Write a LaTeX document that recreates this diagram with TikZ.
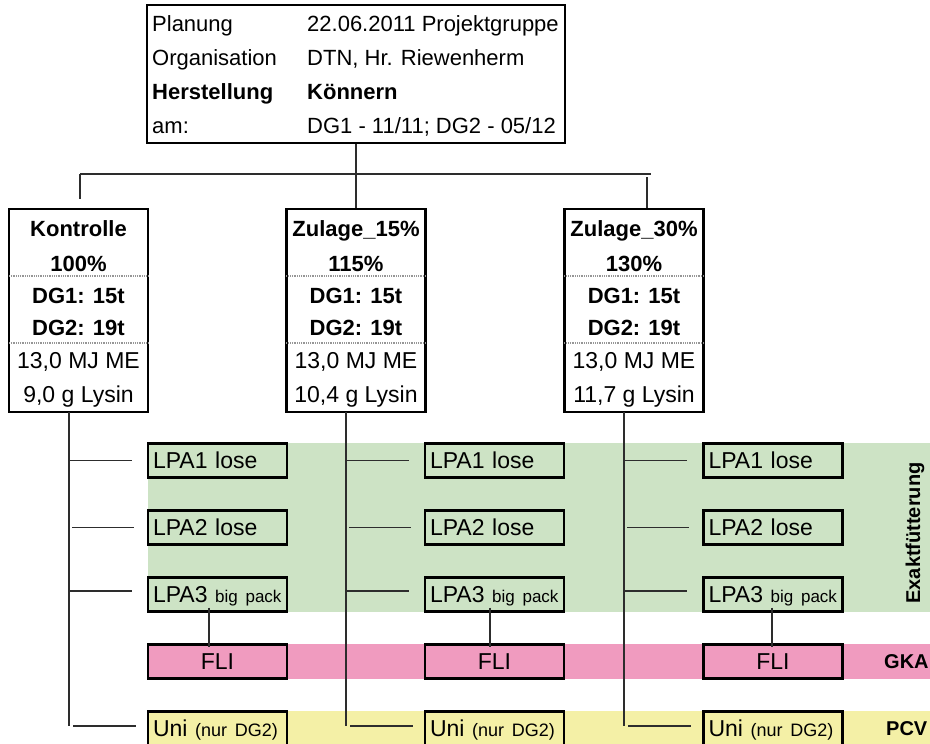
\documentclass[tikz,border=0pt]{standalone}
\usepackage{fontspec}
\setmainfont{Liberation Sans}
\definecolor{bandgreen}{RGB}{205,227,197}
\definecolor{bandpink}{RGB}{240,155,191}
\definecolor{bandyellow}{RGB}{244,240,166}
\definecolor{connc}{RGB}{45,45,45}
\definecolor{divc}{RGB}{150,150,150}
\newcommand{\smalltxt}{\fontsize{17}{20}\selectfont}
\newcommand{\nurtxt}{\fontsize{18}{20}\selectfont}
\begin{document}
\begin{tikzpicture}[x=1pt,y=-1pt,
  conn/.style={draw=connc,line width=1.4pt},
  frame/.style={draw=black,line width=2.2pt,inner sep=0pt},
  divider/.style={draw=divc,line width=1.6pt,dash pattern=on 1pt off 0.8pt},
  txt/.style={inner sep=0pt,font=\fontsize{22}{26}\selectfont},
  txtb/.style={inner sep=0pt,font=\fontsize{22}{26}\selectfont\bfseries},
  txtr/.style={inner sep=0pt,font=\fontsize{23}{26}\selectfont},
  lpa/.style={frame,minimum height=34pt,text width=129pt,inner xsep=5pt,inner ysep=0pt,
    align=left,text height=16.5pt,text depth=0pt,font=\fontsize{23}{26}\selectfont},
  fli/.style={lpa,align=center,fill=bandpink},
  lab/.style={inner sep=0pt,font=\fontsize{20}{24}\selectfont\bfseries}
]
\useasboundingbox (0,0) rectangle (930,744);

% background bands
\fill[bandgreen] (148,443) rectangle (930,612);
\fill[bandpink] (148,644) rectangle (930,679);
\fill[bandyellow] (148,711) rectangle (930,744);

% top box
\node[frame,minimum width=418pt,minimum height=138pt] (top) at (356,74) {};
\node[txt,anchor=base west] (l1) at (152,31) {Planung};
\node[txt,anchor=base west] (v1) at (307,31) {22.06.2011 Projektgruppe};
\node[txt,anchor=base west] (l2) at (152,65) {Organisation};
\node[txt,anchor=base west] (v2) at (307,65) {DTN, Hr. Riewenherm};
\node[txtb,anchor=base west] (l3) at (152,99) {Herstellung};
\node[txtb,anchor=base west] (v3) at (307,99) {Könnern};
\node[txt,anchor=base west] (l4) at (152,133) {am:};
\node[txt,anchor=base west] (v4) at (307,133) {DG1 - 11/11; DG2 - 05/12};

% group boxes
\foreach \c/\cx/\na/\nb/\lys in {1/78.5/Kontrolle/100\%/{9,0 g Lysin},
                                 2/356/Zulage\_15\%/115\%/{10,4 g Lysin},
                                 3/634/Zulage\_30\%/130\%/{11,7 g Lysin}} {
  \node[frame,minimum width=139pt,minimum height=203pt] (g\c) at (\cx,310.5) {};
  \draw[divider] ([xshift=1pt]g\c.west |- 0,276) -- ([xshift=-1pt]g\c.east |- 0,276);
  \draw[divider] ([xshift=1pt]g\c.west |- 0,343) -- ([xshift=-1pt]g\c.east |- 0,343);
  \node[txtb,anchor=base] (ga\c) at (\cx,236) {\na};
  \node[txtb,anchor=base] (gb\c) at (\cx,271) {\nb};
  \node[txtb,anchor=base] (gc\c) at (\cx,303) {DG1: 15t};
  \node[txtb,anchor=base] (gd\c) at (\cx,335) {DG2: 19t};
  \node[txtr,anchor=base] (ge\c) at (\cx,368) {13,0 MJ ME};
  \node[txtr,anchor=base] (gf\c) at (\cx,402) {\lys};
}

% top connectors
\draw[conn] (top.south) -- (g2.north);
\coordinate (busL) at (80,174);
\coordinate (busR) at (651,174);
\coordinate (dropL) at (80,199);
\coordinate (dropR) at (647,177);
\draw[conn] (busL) -- (busR);
\draw[conn] (busL) -- (dropL);
\draw[conn] (dropR) -- (dropR |- g3.north);

% LPA columns
\foreach \c/\bx/\vx/\sh in {1/217.5/69/-8.5, 2/494.5/346/-4.5, 3/773/624/-1} {
  \node[lpa] (pa\c) at (\bx,460.5) {LPA1 lose};
  \node[lpa] (pb\c) at (\bx,527.5) {LPA2 lose};
  \node[lpa] (pc\c) at (\bx,594.5) {LPA3 {\smalltxt big pack}};
  \node[fli] (fl\c) at (\bx,661.5) {FLI};
  \node[lpa,fill=bandyellow] (un\c) at (\bx,728.5) {Uni {\nurtxt (nur DG2)}};
  \coordinate (vt\c) at (\vx,412);
  \coordinate (vb\c) at (\vx,726);
  \draw[conn] (vt\c) -- (vb\c);
  \draw[conn] (vb\c |- pa\c.west) -- ([xshift=-15pt]pa\c.west);
  \draw[conn] ([xshift=3pt]vb\c |- pb\c.west) -- ([xshift=-13pt]pb\c.west);
  \draw[conn] (vb\c |- 0,591) -- ([xshift=-15pt,yshift=3.5pt]pc\c.west);
  \draw[conn] ([xshift=4pt]vb\c) -- ([xshift=-11pt,yshift=2.5pt]un\c.west);
  \draw[conn] ([xshift=\sh pt,yshift=5pt]pc\c.south) -- ([xshift=\sh pt,yshift=-4pt]fl\c.north);
}

% right labels
\node[lab,rotate=90] (ex) at (915,533) {Exaktfütterung};
\node[lab,anchor=west] (gka) at (884,662) {GKA};
\node[lab,anchor=west] (pcv) at (886,729) {PCV};
\end{tikzpicture}
\end{document}
